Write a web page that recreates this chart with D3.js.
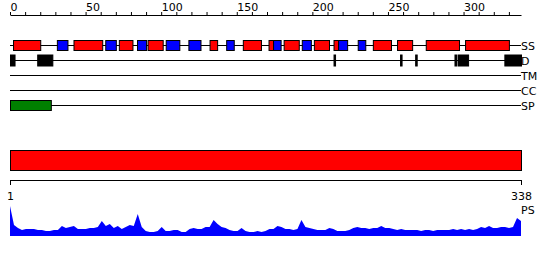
<meta charset="utf-8">
<style>
	body { margin: 0; background: #fff; }
	* { font-family: "DejaVu Sans", sans-serif; }
	.axis text { font-size: 11px; fill: #000; }
	.axis path, .axis line { stroke: #000; }
</style>
<body>
<svg id="svg"></svg>
<script src="https://cdn.jsdelivr.net/npm/d3@7"></script>
<script>

// DATA
var seqLength = 338
var trackNames = [ "SS", "D", "TM", "CC", "SP" ]

// secondary structure: [start, end, type]  H = helix (red), E = strand (blue)
var ssSegments = [
	[2, 20, "H"], [31, 38, "E"], [42, 61, "H"], [63, 70, "E"], [72, 81, "H"],
	[84, 90, "E"], [91, 101, "H"], [103, 112, "E"], [118, 126, "E"], [132, 137, "H"],
	[143, 148, "E"], [154, 166, "H"], [171, 174, "H"], [174, 179, "E"], [181, 191, "H"],
	[193, 199, "E"], [201, 211, "H"], [214, 217, "H"], [217, 223, "E"], [230, 235, "E"],
	[240, 252, "H"], [256, 266, "H"], [275, 297, "H"], [301, 330, "H"]
]

// disorder
var disorderSegments = [
	[0, 3], [18, 28], [214, 215], [258, 259], [268, 269], [294, 295], [296, 303], [327, 338]
]
var tmSegments = []
var ccSegments = []
var spSegments = [ [0, 27] ]

// domain bar
var domainSegments = [ [0, 338] ]

// bottom axis ticks
var bottomTicks = [ 1, 338 ]

// profile score, evenly spaced from residue 1 to 338
var profile = [
	30, 11, 8, 6, 7, 7, 7, 6, 6, 5, 5, 6, 6, 10, 8, 9, 10, 7, 7, 7,
	8, 8, 9, 15, 10, 12, 8, 10, 7, 9, 11, 10, 22, 9, 5, 4, 4, 5, 9, 5,
	5, 6, 6, 4, 4, 7, 8, 7, 7, 9, 9, 16, 12, 9, 8, 6, 5, 5, 8, 5,
	4, 4, 5, 4, 5, 7, 7, 10, 9, 7, 7, 6, 7, 16, 9, 8, 7, 6, 6, 6,
	8, 7, 5, 5, 5, 6, 8, 9, 8, 8, 7, 8, 8, 10, 8, 8, 7, 6, 7, 6,
	6, 6, 6, 5, 6, 6, 5, 6, 6, 6, 6, 7, 6, 7, 6, 7, 6, 7, 9, 8,
	10, 8, 8, 9, 9, 8, 9, 18, 15
]

// CANVAS
var width = 550
var height = 260

var svg = d3.select( '#svg' )
	.attr( 'width', width )
	.attr( 'height', height )

var x = d3.scaleLinear().domain([ 0, seqLength ]).range([ 10, 521 ])
var x1 = d3.scaleLinear().domain([ 1, seqLength ]).range([ 10, 521 ])

// track rows
var trackY = d3.scalePoint().domain( trackNames ).range([ 45, 105 ])

var colors = { H: '#ff0000', E: '#0000ff' }

// TOP AXIS
var topAxis = svg.append( 'g' )
	.attr( 'class', 'axis' )
	.attr( 'transform', 'translate(0,15)' )
	.call( d3.axisTop( x )
		.tickValues( d3.range( 0, 331, 10 ))
		.tickSize( 3 )
		.tickSizeOuter( 0 )
		.tickPadding( 1 )
		.tickFormat( d => d % 50 == 0 ? d : '' ))
topAxis.selectAll( 'text' ).attr( 'text-anchor', 'start' )

// TRACK LINES + LABELS
var tracks = svg.append( 'g' )
tracks.selectAll( 'line' )
	.data( trackNames )
	.enter()
	.append( 'line' )
		.attr( 'x1', x( 0 ))
		.attr( 'x2', x( seqLength ))
		.attr( 'y1', d => trackY( d ) + 0.5 )
		.attr( 'y2', d => trackY( d ) + 0.5 )
		.attr( 'stroke', '#000' )

tracks.selectAll( 'text' )
	.data( trackNames )
	.enter()
	.append( 'text' )
		.attr( 'x', 521 )
		.attr( 'y', d => trackY( d ) + 4.5 )
		.style( 'font-size', '11px' )
		.text( d => d )

function boxes( data, track, h, fill ){
	svg.append( 'g' )
		.selectAll( 'rect' )
		.data( data )
		.enter()
		.append( 'rect' )
			.attr( 'x', d => x( d[0] ) + 0.5 )
			.attr( 'y', trackY( track ) - h / 2 + 0.5 )
			.attr( 'width', d => Math.max( 1, x( d[1] ) - x( d[0] )))
			.attr( 'height', h )
			.attr( 'fill', fill )
			.attr( 'stroke', '#000' )
}

boxes( ssSegments, 'SS', 10, d => colors[ d[2] ])
boxes( disorderSegments, 'D', 11, '#000' )
boxes( tmSegments, 'TM', 10, '#ff00ff' )
boxes( ccSegments, 'CC', 10, '#00ffff' )
boxes( spSegments, 'SP', 10, '#008000' )

// DOMAIN BAR
svg.append( 'g' )
	.selectAll( 'rect' )
	.data( domainSegments )
	.enter()
	.append( 'rect' )
		.attr( 'x', d => x( d[0] ) + 0.5 )
		.attr( 'y', 150.5 )
		.attr( 'width', d => x( d[1] ) - x( d[0] ))
		.attr( 'height', 20 )
		.attr( 'fill', '#ff0000' )
		.attr( 'stroke', '#000' )

// BOTTOM AXIS
svg.append( 'g' )
	.attr( 'class', 'axis' )
	.attr( 'transform', 'translate(0,180)' )
	.call( d3.axisBottom( x1 )
		.tickValues( bottomTicks )
		.tickSize( 5 )
		.tickSizeOuter( 0 )
		.tickPadding( 7 ))

// PROFILE
var py = d3.scaleLinear().domain([ 0, 40 ]).range([ 236, 196 ])
var px = d3.scaleLinear().domain([ 0, profile.length - 1 ]).range([ 1, seqLength ])

svg.append( 'path' )
	.datum( profile )
	.attr( 'fill', '#0000ff' )
	.attr( 'd', d3.area()
		.x( ( d, i ) => x1( px( i )))
		.y0( py( 0 ))
		.y1( d => py( d )))

svg.append( 'text' )
	.attr( 'x', 521 )
	.attr( 'y', 214 )
	.style( 'font-size', '11px' )
	.text( 'PS' )

</script>
</body>
